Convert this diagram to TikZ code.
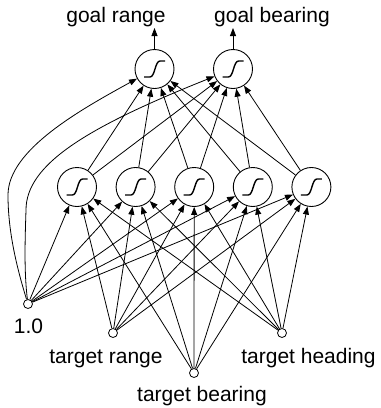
\documentclass[tikz,border=0pt]{standalone}
\usepackage{fontspec}
\setmainfont{Liberation Sans}
\usetikzlibrary{arrows.meta}
\begin{document}
\begin{tikzpicture}[x=1pt,y=-1pt,
  font=\fontsize{21}{25}\selectfont,
  wire/.style={line width=0.8pt,-{Triangle[length=8pt,width=6pt]}},
  unit/.style={circle,draw,line width=0.9pt,minimum size=39pt,inner sep=0pt,
    path picture={\draw[line width=1.4pt]
      ([shift={(-10.5,8)}]path picture bounding box.center) -- ++(6,0)
      .. controls +(5,0) and +(-5,0) .. ++(10,-16) -- ++(5,0);}},
  input/.style={circle,draw,line width=0.8pt,minimum size=9pt,inner sep=0pt},
  lbl/.style={anchor=base,inner sep=0pt}]
\useasboundingbox (0,0) rectangle (381,408);

% output layer
\node[unit] (o1) at (154.5,69) {};
\node[unit] (o2) at (233,69) {};
% hidden layer
\foreach \i/\x in {1/77,2/135.6,3/194.2,4/252.8,5/311.4}
  \node[unit] (h\i) at (\x,187) {};
% inputs
\node[input] (b)  at (28,304) {};
\node[input] (tr) at (113,333) {};
\node[input] (th) at (282,333) {};
\node[input] (tb) at (194,373) {};

% labels
\node[lbl] (lgr) at (116,22) {goal range};
\node[lbl] (lgb) at (272,22) {goal bearing};
\node[lbl] (lb)  at (28.5,333) {1.0};
\node[lbl] (ltr) at (106,363) {target range};
\node[lbl] (lth) at (308.5,363) {target heading};
\node[lbl] (ltb) at (202,401) {target bearing};

\coordinate (e1) at (154.5,28);
\coordinate (e2) at (233,28);
\draw[wire] (o1) -- (e1);
\draw[wire] (o2) -- (e2);

% inputs to hidden layer
\foreach \s in {b,tr,tb,th}
  \foreach \i in {1,...,5}
    \draw[wire] (\s) -- (h\i);
% hidden layer to outputs
\foreach \i in {1,...,5}
  \foreach \o in {o1,o2}
    \draw[wire] (h\i) -- (\o);
% bias to outputs
\draw[wire] (b) .. controls (15,262) and (8,228) .. (8,195)
  .. controls (8,150) and (80,110) .. (o1);
\draw[wire] (b) .. controls (24,272) and (25,240) .. (26,210)
  .. controls (26,165) and (85,128) .. (o2);
\end{tikzpicture}
\end{document}
